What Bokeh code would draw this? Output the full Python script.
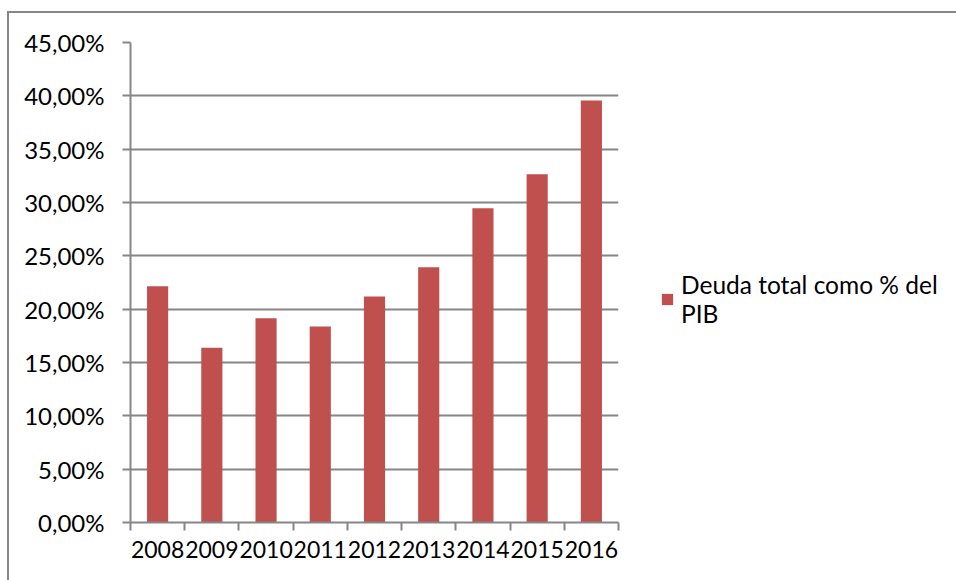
from bokeh.plotting import figure
from bokeh.models import Legend, LegendItem, FixedTicker, CustomJSTickFormatter, Range1d
from bokeh.embed import file_html
from bokeh.resources import INLINE

# Deuda total como % del PIB, por año
years = ["2008", "2009", "2010", "2011", "2012", "2013", "2014", "2015", "2016"]
debt_pct = [22.15, 16.38, 19.15, 18.37, 21.19, 23.94, 29.47, 32.66, 39.56]
y_ticks = [0, 5, 10, 15, 20, 25, 30, 35, 40, 45]

BAR_COLOR = "#C0504D"
AXIS_GREY = "#868686"
FONT = "Lato"

# one unit per category; bars sit in the middle of each slot
centers = [i + 0.5 for i in range(len(years))]
bounds = list(range(len(years) + 1))

p = figure(width=947, height=567, output_backend="svg", toolbar_location=None,
           x_range=Range1d(0, len(years)), y_range=Range1d(0, 45),
           frame_width=488, frame_height=480,
           min_border_left=121, min_border_right=338,
           min_border_top=29, min_border_bottom=58)

# chart area border (top and left edges of the chart box)
p.margin = (11, 0, 0, 7)
p.styles = {"border-left": f"2px solid {AXIS_GREY}", "border-top": f"2px solid {AXIS_GREY}"}

r = p.vbar(x=centers, top=debt_pct, width=0.39, color=BAR_COLOR, line_color=None)

p.outline_line_color = None
p.background_fill_color = "white"
p.border_fill_color = "white"

# x axis: labels centred on the bars, tick marks on the category boundaries
p.xaxis.ticker = FixedTicker(ticks=centers, minor_ticks=bounds)
p.xaxis.major_label_overrides = {c: y for c, y in zip(centers, years)}
p.xaxis.major_tick_out = 0
p.xaxis.major_tick_in = 0
p.xaxis.minor_tick_out = 8
p.xaxis.minor_tick_in = 0
p.xaxis.minor_tick_line_color = AXIS_GREY
p.xaxis.minor_tick_line_width = 2
p.xaxis.axis_line_color = AXIS_GREY
p.xaxis.axis_line_width = 2
p.xaxis.major_label_standoff = 10
p.xaxis.major_label_text_font = FONT
p.xaxis.major_label_text_font_size = "23px"
p.xaxis.major_label_text_color = "black"
p.xgrid.grid_line_color = None

# y axis: percentages with comma decimals
p.yaxis.ticker = FixedTicker(ticks=y_ticks, minor_ticks=[])
p.yaxis.formatter = CustomJSTickFormatter(
    code="return tick.toFixed(2).replace('.', ',') + '%';")
p.yaxis.major_tick_out = 8
p.yaxis.major_tick_in = 0
p.yaxis.major_tick_line_color = AXIS_GREY
p.yaxis.major_tick_line_width = 2
p.yaxis.minor_tick_line_color = None
p.yaxis.axis_line_color = AXIS_GREY
p.yaxis.axis_line_width = 2
p.yaxis.major_label_standoff = 18
p.yaxis.major_label_text_font = FONT
p.yaxis.major_label_text_font_size = "24px"
p.yaxis.major_label_text_color = "black"
p.ygrid.grid_line_color = AXIS_GREY
p.ygrid.grid_line_width = 2

legend = Legend(items=[LegendItem(label="Deuda total como % del\nPIB", renderers=[r])],
                location=(42, 194), margin=0, padding=0,
                glyph_width=14, glyph_height=14, label_standoff=7,
                label_text_font=FONT, label_text_font_size="24.5px",
                label_text_color="black",
                border_line_color=None, background_fill_alpha=0)
p.add_layout(legend, "right")

open("out.html", "w").write(file_html(p, INLINE))
